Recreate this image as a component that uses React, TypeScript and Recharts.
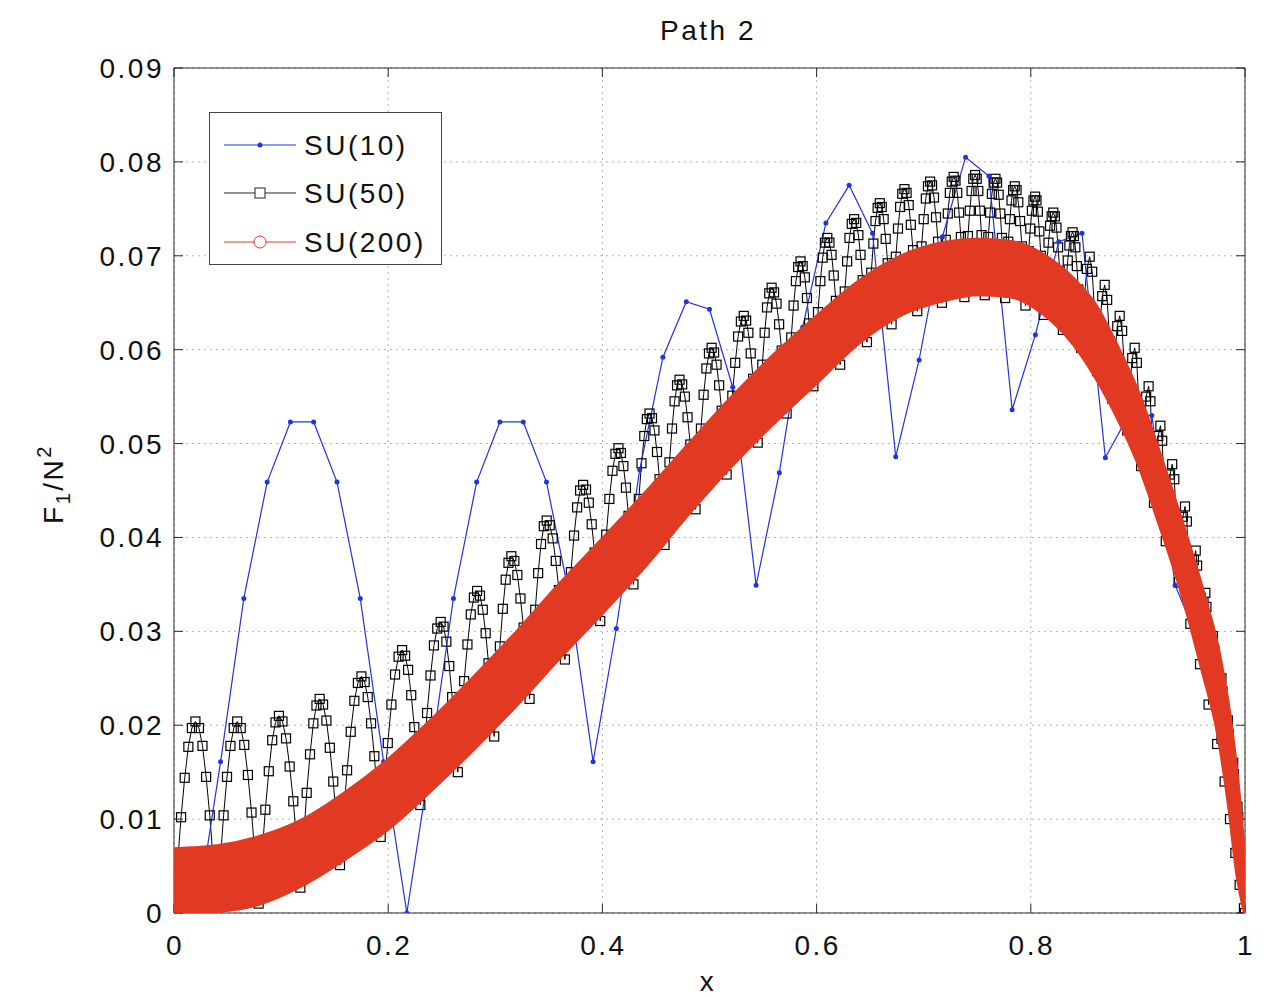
import React from 'react';
import { ComposedChart, Line, Area, XAxis, YAxis, CartesianGrid, ReferenceLine } from 'recharts';

// SU(10): coarse sampling, read point by point
const su10X = [
  0, 0.0217, 0.0435, 0.0652, 0.087, 0.1087, 0.1304, 0.1522, 0.1739, 0.1957,
  0.2174, 0.2391, 0.2609, 0.2826, 0.3043, 0.3261, 0.3478, 0.3696, 0.3913, 0.413,
  0.4348, 0.4565, 0.4783, 0.5, 0.5217, 0.5435, 0.5652, 0.587, 0.6087, 0.6304,
  0.6522, 0.6739, 0.6957, 0.7174, 0.7391, 0.7609, 0.7826, 0.8043, 0.8261, 0.8478,
  0.8696, 0.8913, 0.913, 0.9348, 0.9565, 0.9783, 1,
];
const su10Y = [
  0, 0, 0.0161, 0.0335, 0.0459, 0.0523, 0.0523, 0.0459, 0.0335, 0.0161,
  0, 0.0161, 0.0335, 0.0459, 0.0523, 0.0523, 0.0459, 0.0335, 0.0161, 0.0303,
  0.0472, 0.0592, 0.0651, 0.0643, 0.056, 0.0349, 0.0469, 0.0624, 0.0735, 0.0775,
  0.0724, 0.0486, 0.0589, 0.072, 0.0805, 0.0785, 0.0536, 0.0616, 0.0715, 0.0724,
  0.0485, 0.053, 0.053, 0.0349, 0.029, 0.019, 0,
];

// SU(50): one row per bump, trough -> peak -> back down
const su50X = [
  0, 0.0033, 0.0066, 0.01, 0.0134, 0.0167, 0.02, 0.0233, 0.0266, 0.03, 0.0334, 0.0367,
  0.04, 0.0432, 0.0463, 0.0495, 0.0527, 0.0558, 0.059, 0.0623, 0.0656, 0.069, 0.0724, 0.0757,
  0.079, 0.0822, 0.0853, 0.0885, 0.0917, 0.0948, 0.098, 0.1013, 0.1046, 0.108, 0.1114, 0.1147,
  0.118, 0.121, 0.1239, 0.127, 0.1301, 0.133, 0.136, 0.1392, 0.1423, 0.1455, 0.1487, 0.1518,
  0.155, 0.1583, 0.1616, 0.165, 0.1684, 0.1717, 0.175, 0.178, 0.1809, 0.184, 0.1871, 0.19,
  0.193, 0.1963, 0.1996, 0.203, 0.2064, 0.2097, 0.213, 0.2158, 0.2186, 0.2215, 0.2244, 0.2272,
  0.23, 0.2332, 0.2363, 0.2395, 0.2427, 0.2458, 0.249, 0.2517, 0.2543, 0.257, 0.2597, 0.2623,
  0.265, 0.268, 0.2709, 0.274, 0.2771, 0.28, 0.283, 0.2857, 0.2883, 0.291, 0.2937, 0.2963,
  0.299, 0.3017, 0.3043, 0.307, 0.3097, 0.3123, 0.315, 0.3178, 0.3206, 0.3235, 0.3264, 0.3292,
  0.332, 0.3347, 0.3373, 0.34, 0.3427, 0.3453, 0.348, 0.3508, 0.3536, 0.3565, 0.3594, 0.3622,
  0.365, 0.3678, 0.3706, 0.3735, 0.3764, 0.3792, 0.382, 0.3847, 0.3873, 0.39, 0.3927, 0.3953,
  0.398, 0.4008, 0.4036, 0.4065, 0.4094, 0.4122, 0.415, 0.4173, 0.4196, 0.422, 0.4244, 0.4267,
  0.429, 0.4315, 0.434, 0.4365, 0.4391, 0.4415, 0.444, 0.4463, 0.4486, 0.451, 0.4534, 0.4557,
  0.458, 0.4603, 0.4626, 0.465, 0.4674, 0.4697, 0.472, 0.4745, 0.477, 0.4795, 0.4821, 0.4845,
  0.487, 0.4895, 0.492, 0.4945, 0.4971, 0.4995, 0.502, 0.5043, 0.5066, 0.509, 0.5114, 0.5137,
  0.516, 0.5187, 0.5213, 0.524, 0.5267, 0.5293, 0.532, 0.5342, 0.5363, 0.5385, 0.5407, 0.5428,
  0.545, 0.5472, 0.5493, 0.5515, 0.5537, 0.5558, 0.558, 0.5603, 0.5626, 0.565, 0.5674, 0.5697,
  0.572, 0.5742, 0.5763, 0.5785, 0.5807, 0.5828, 0.585, 0.587, 0.589, 0.591, 0.593, 0.595,
  0.597, 0.5992, 0.6013, 0.6035, 0.6057, 0.6078, 0.61, 0.612, 0.614, 0.616, 0.618, 0.62,
  0.622, 0.6242, 0.6263, 0.6285, 0.6307, 0.6328, 0.635, 0.637, 0.639, 0.641, 0.643, 0.645,
  0.647, 0.649, 0.651, 0.653, 0.655, 0.657, 0.659, 0.6608, 0.6626, 0.6645, 0.6664, 0.6682,
  0.67, 0.672, 0.674, 0.676, 0.678, 0.68, 0.682, 0.684, 0.686, 0.688, 0.69, 0.692,
  0.694, 0.696, 0.698, 0.7, 0.702, 0.704, 0.706, 0.7078, 0.7096, 0.7115, 0.7134, 0.7152,
  0.717, 0.7188, 0.7206, 0.7225, 0.7244, 0.7262, 0.728, 0.7297, 0.7313, 0.733, 0.7347, 0.7363,
  0.738, 0.7397, 0.7413, 0.743, 0.7447, 0.7463, 0.748, 0.7495, 0.751, 0.7525, 0.754, 0.7555,
  0.757, 0.7587, 0.7603, 0.762, 0.7637, 0.7653, 0.767, 0.7685, 0.77, 0.7715, 0.773, 0.7745,
  0.776, 0.7775, 0.779, 0.7805, 0.782, 0.7835, 0.785, 0.7867, 0.7883, 0.79, 0.7917, 0.7933,
  0.795, 0.7965, 0.798, 0.7995, 0.801, 0.8025, 0.804, 0.8053, 0.8066, 0.808, 0.8094, 0.8107,
  0.812, 0.8135, 0.815, 0.8165, 0.818, 0.8195, 0.821, 0.8225, 0.824, 0.8255, 0.827, 0.8285,
  0.83, 0.8315, 0.833, 0.8345, 0.836, 0.8375, 0.839, 0.8403, 0.8416, 0.843, 0.8444, 0.8457,
  0.847, 0.8496, 0.8524, 0.855, 0.8573, 0.8597,
  0.862, 0.8643, 0.8667, 0.869, 0.8713, 0.8737,
  0.876, 0.8783, 0.8807, 0.883, 0.8853, 0.8877,
  0.89, 0.8923, 0.8947, 0.897, 0.899, 0.901,
  0.903, 0.9053, 0.9077, 0.91, 0.9117, 0.9133,
  0.915, 0.917, 0.919, 0.921, 0.9227, 0.9243,
  0.926, 0.928, 0.93, 0.932, 0.934, 0.936,
  0.938, 0.94, 0.942, 0.944, 0.9457, 0.9473,
  0.949, 0.9507, 0.9523, 0.954, 0.9553, 0.9567,
  0.958, 0.9597, 0.9613, 0.963, 0.964, 0.965,
  0.966, 0.9673, 0.9687, 0.97, 0.9713, 0.9727,
  0.974, 0.9753, 0.9767, 0.978, 0.979, 0.98,
  0.981, 0.982, 0.983, 0.984, 0.9847, 0.9853,
  0.986, 0.987, 0.988, 0.989, 0.9897, 0.9903,
  0.991, 0.9917, 0.9923, 0.993, 0.9937, 0.9943,
  0.995, 0.9957, 0.9963, 0.997, 0.9977, 0.9983,
  0.999, 1,
];
const su50Y = [
  0, 0.0053, 0.0102, 0.0144, 0.0177, 0.0197, 0.0204, 0.0197, 0.0178, 0.0145, 0.0104, 0.0055,
  0.0003, 0.0055, 0.0104, 0.0145, 0.0178, 0.0197, 0.0204, 0.0197, 0.0179, 0.0147, 0.0107, 0.006,
  0.001, 0.0062, 0.011, 0.0151, 0.0184, 0.0203, 0.021, 0.0204, 0.0186, 0.0156, 0.0119, 0.0074,
  0.0027, 0.0079, 0.0128, 0.0169, 0.0202, 0.0221, 0.0228, 0.0222, 0.0205, 0.0176, 0.014, 0.0097,
  0.0051, 0.0103, 0.0152, 0.0193, 0.0226, 0.0245, 0.0252, 0.0246, 0.023, 0.0202, 0.0167, 0.0125,
  0.0081, 0.0133, 0.0181, 0.0222, 0.0254, 0.0273, 0.028, 0.0274, 0.0259, 0.0232, 0.0198, 0.0158,
  0.0115, 0.0166, 0.0213, 0.0253, 0.0285, 0.0303, 0.031, 0.0305, 0.0289, 0.0263, 0.023, 0.0191,
  0.015, 0.02, 0.0247, 0.0286, 0.0318, 0.0336, 0.0343, 0.0338, 0.0323, 0.0298, 0.0266, 0.0228,
  0.0188, 0.0238, 0.0284, 0.0324, 0.0355, 0.0373, 0.038, 0.0375, 0.036, 0.0335, 0.0304, 0.0267,
  0.0228, 0.0277, 0.0323, 0.0362, 0.0393, 0.0412, 0.0418, 0.0413, 0.0399, 0.0375, 0.0344, 0.0308,
  0.027, 0.0318, 0.0363, 0.0402, 0.0432, 0.045, 0.0456, 0.0451, 0.0437, 0.0414, 0.0384, 0.0349,
  0.0311, 0.0359, 0.0403, 0.0441, 0.0471, 0.0489, 0.0495, 0.049, 0.0476, 0.0453, 0.0423, 0.0388,
  0.035, 0.0397, 0.0441, 0.0479, 0.0508, 0.0526, 0.0532, 0.0527, 0.0514, 0.0491, 0.0462, 0.0428,
  0.0392, 0.0438, 0.048, 0.0516, 0.0545, 0.0562, 0.0568, 0.0563, 0.055, 0.0528, 0.0499, 0.0466,
  0.043, 0.0475, 0.0516, 0.0552, 0.058, 0.0596, 0.0602, 0.0597, 0.0584, 0.0562, 0.0535, 0.0502,
  0.0467, 0.0511, 0.0551, 0.0586, 0.0614, 0.063, 0.0636, 0.0631, 0.0618, 0.0596, 0.0569, 0.0536,
  0.0501, 0.0544, 0.0584, 0.0618, 0.0645, 0.066, 0.0666, 0.0661, 0.0649, 0.0627, 0.0599, 0.0567,
  0.0532, 0.0574, 0.0613, 0.0647, 0.0673, 0.0688, 0.0694, 0.0689, 0.0677, 0.0655, 0.0628, 0.0595,
  0.0561, 0.0602, 0.064, 0.0673, 0.0698, 0.0714, 0.0719, 0.0714, 0.0701, 0.0679, 0.0652, 0.0619,
  0.0584, 0.0624, 0.0662, 0.0694, 0.0719, 0.0734, 0.0739, 0.0735, 0.0722, 0.0701, 0.0674, 0.0642,
  0.0608, 0.0646, 0.0682, 0.0713, 0.0737, 0.0751, 0.0756, 0.0752, 0.0739, 0.0718, 0.0692, 0.066,
  0.0627, 0.0664, 0.0699, 0.0729, 0.0752, 0.0766, 0.0771, 0.0767, 0.0754, 0.0733, 0.0706, 0.0675,
  0.0641, 0.0677, 0.071, 0.0739, 0.0761, 0.0774, 0.0779, 0.0775, 0.0762, 0.0741, 0.0715, 0.0683,
  0.065, 0.0685, 0.0717, 0.0745, 0.0767, 0.0779, 0.0784, 0.078, 0.0767, 0.0746, 0.072, 0.0689,
  0.0656, 0.069, 0.0721, 0.0748, 0.0769, 0.0782, 0.0786, 0.0782, 0.0769, 0.0748, 0.0722, 0.0691,
  0.0658, 0.069, 0.072, 0.0746, 0.0766, 0.0778, 0.0782, 0.0778, 0.0765, 0.0745, 0.0719, 0.0688,
  0.0655, 0.0686, 0.0715, 0.0739, 0.0759, 0.077, 0.0774, 0.077, 0.0757, 0.0737, 0.071, 0.068,
  0.0647, 0.0677, 0.0705, 0.0729, 0.0748, 0.0759, 0.0763, 0.0759, 0.0747, 0.0726, 0.07, 0.067,
  0.0637, 0.0665, 0.0692, 0.0714, 0.0732, 0.0742, 0.0746, 0.0742, 0.073, 0.0709, 0.0684, 0.0653,
  0.0621, 0.0648, 0.0673, 0.0695, 0.0711, 0.0721, 0.0725, 0.0721, 0.0709, 0.0689, 0.0664, 0.0634,
  0.0602, 0.0651, 0.0686, 0.0699, 0.0683, 0.0638,
  0.0577, 0.0623, 0.0657, 0.0669, 0.0653, 0.0609,
  0.0548, 0.0592, 0.0625, 0.0636, 0.062, 0.0575,
  0.0514, 0.0558, 0.0591, 0.0602, 0.0586, 0.0539,
  0.0476, 0.0519, 0.055, 0.0561, 0.0545, 0.0499,
  0.0437, 0.0478, 0.0508, 0.0519, 0.0503, 0.0458,
  0.0396, 0.0437, 0.0467, 0.0478, 0.0462, 0.0415,
  0.0352, 0.0393, 0.0422, 0.0433, 0.0417, 0.0371,
  0.0308, 0.0347, 0.0376, 0.0386, 0.037, 0.0326,
  0.0265, 0.0303, 0.0331, 0.0341, 0.0326, 0.0282,
  0.0222, 0.0259, 0.0286, 0.0295, 0.028, 0.0238,
  0.018, 0.0215, 0.0241, 0.025, 0.0236, 0.0195,
  0.014, 0.0173, 0.0197, 0.0205, 0.0191, 0.0153,
  0.01, 0.013, 0.0152, 0.016, 0.0148, 0.0112,
  0.0064, 0.0089, 0.0107, 0.0113, 0.0102, 0.0072,
  0.003, 0.005, 0.0065, 0.007, 0.0062, 0.0038,
  0.0005, 0,
];

// SU(200): dense oscillation, drawn as its lower / upper envelope
const su200X = [
  0, 0.04, 0.08, 0.12, 0.16, 0.2, 0.24, 0.28, 0.32, 0.36, 0.4, 0.44, 0.48, 0.52, 0.56, 0.6,
  0.64, 0.68, 0.72, 0.75, 0.78, 0.81, 0.84, 0.86, 0.88, 0.9, 0.92, 0.94, 0.96, 0.975, 0.985, 0.993, 1,
];
const su200Low = [
  0, 0.0002, 0.001, 0.003, 0.0058, 0.009, 0.0131, 0.0175, 0.0222, 0.0272, 0.032, 0.037, 0.0425, 0.0476, 0.0522, 0.0565,
  0.0608, 0.0638, 0.0653, 0.0659, 0.0657, 0.064, 0.0606, 0.0572, 0.053, 0.048, 0.0415, 0.0345, 0.026, 0.019, 0.0115, 0.004, 0,
];
const su200High = [
  0.0068, 0.0071, 0.0081, 0.0099, 0.0128, 0.0163, 0.0205, 0.0251, 0.0299, 0.035, 0.0398, 0.0447, 0.0498, 0.0548, 0.0594, 0.0635,
  0.0673, 0.07, 0.0714, 0.0717, 0.0715, 0.0702, 0.0675, 0.0648, 0.0605, 0.0555, 0.049, 0.042, 0.0345, 0.028, 0.0215, 0.014, 0.005,
];

const xTicks = [0, 0.2, 0.4, 0.6, 0.8, 1];
const xTickLabels = ['0', '0.2', '0.4', '0.6', '0.8', '1'];
const yTicks = [0, 0.01, 0.02, 0.03, 0.04, 0.05, 0.06, 0.07, 0.08, 0.09];
const yTickLabels = ['0', '0.01', '0.02', '0.03', '0.04', '0.05', '0.06', '0.07', '0.08', '0.09'];
const seriesNames = ['SU(10)', 'SU(50)', 'SU(200)'];

const W = 1250;
const H = 990;
const PLOT_LEFT = 166;
const PLOT_TOP = 60;
const PLOT_W = 1071;
const PLOT_H = 845;
const Y_AXIS_W = 80;
const X_AXIS_H = 50;
const TICK = 9;
const FONT = '"Liberation Sans", Arial, Helvetica, sans-serif';
const INK = '#111';
const FRAME = '#2a2a2a';
const BLUE = '#2233dd';
const RED = '#e23a22';

const textStyle = { fontFamily: FONT, fontSize: 28, letterSpacing: 2.5, fill: INK };

const su10Data = su10X.map((x, i) => ({ x, y: su10Y[i] }));
const su50Data = su50X.map((x, i) => ({ x, y: su50Y[i] }));
const su200Data = su200X.map((x, i) => ({ x, lo: su200Low[i], hi: su200High[i] }));

const XTick = (props: any) => {
  const { x, y, index } = props;
  return (
    <g>
      <line x1={x} y1={y} x2={x} y2={y - TICK} stroke={FRAME} />
      <line x1={x} y1={y - PLOT_H} x2={x} y2={y - PLOT_H + TICK} stroke={FRAME} />
      <text x={x + 1} y={y + 42} textAnchor="middle" style={textStyle}>
        {xTickLabels[index]}
      </text>
    </g>
  );
};

const YTick = (props: any) => {
  const { x, y, index } = props;
  return (
    <g>
      <line x1={x} y1={y} x2={x + TICK} y2={y} stroke={FRAME} />
      <line x1={x + PLOT_W} y1={y} x2={x + PLOT_W - TICK} y2={y} stroke={FRAME} />
      <text x={x - 10} y={y + 10} textAnchor="end" style={textStyle}>
        {yTickLabels[index]}
      </text>
    </g>
  );
};

const squareDot = (p: any) => (
  <rect
    key={`sq-${p.index}`}
    x={p.cx - 4.5}
    y={p.cy - 4.5}
    width={9}
    height={9}
    fill="none"
    stroke="#000"
    strokeWidth={1.2}
  />
);

const LegendBox = () => {
  const rows = [32, 80, 129];
  return (
    <div
      style={{
        position: 'absolute',
        left: 201,
        top: 104,
        width: 233,
        height: 153,
        border: '1px solid #444',
        background: '#fff',
        boxSizing: 'border-box',
      }}
    >
      <svg width={231} height={151} style={{ display: 'block' }}>
        <line x1={14} y1={rows[0]} x2={86} y2={rows[0]} stroke={BLUE} />
        <circle cx={50} cy={rows[0]} r={2.5} fill={BLUE} />
        <line x1={14} y1={rows[1]} x2={86} y2={rows[1]} stroke="#222" />
        <rect x={45} y={rows[1] - 5} width={10} height={10} fill="#fff" stroke="#222" />
        <line x1={14} y1={rows[2]} x2={86} y2={rows[2]} stroke={RED} />
        <circle cx={50} cy={rows[2]} r={6} fill="#fff" stroke={RED} />
        {seriesNames.map((name, i) => (
          <text key={name} x={94} y={rows[i] + 10} style={textStyle}>
            {name}
          </text>
        ))}
      </svg>
    </div>
  );
};

export default function App() {
  return (
    <div style={{ position: 'relative', width: W, height: H, background: '#fff' }}>
      <ComposedChart
        width={W}
        height={H}
        margin={{
          top: PLOT_TOP,
          right: W - PLOT_LEFT - PLOT_W,
          bottom: H - PLOT_TOP - PLOT_H - X_AXIS_H,
          left: PLOT_LEFT - Y_AXIS_W,
        }}
      >
        <CartesianGrid stroke="#b4b4b4" strokeDasharray="2 4" />
        <XAxis
          type="number"
          dataKey="x"
          domain={[0, 1]}
          ticks={xTicks}
          interval={0}
          allowDataOverflow
          height={X_AXIS_H}
          tickSize={0}
          tickMargin={0}
          tickLine={false}
          axisLine={{ stroke: FRAME }}
          tick={<XTick />}
        />
        <YAxis
          type="number"
          domain={[0, 0.09]}
          ticks={yTicks}
          interval={0}
          allowDataOverflow
          width={Y_AXIS_W}
          tickSize={0}
          tickMargin={0}
          tickLine={false}
          axisLine={{ stroke: FRAME }}
          tick={<YTick />}
        />
        <Line
          data={su50Data}
          dataKey="y"
          type="linear"
          stroke="#000"
          strokeWidth={1}
          dot={squareDot}
          activeDot={false}
          isAnimationActive={false}
        />
        <Line
          data={su10Data}
          dataKey="y"
          type="linear"
          stroke={BLUE}
          strokeWidth={1.2}
          dot={{ r: 2.5, fill: BLUE, stroke: 'none' }}
          activeDot={false}
          isAnimationActive={false}
        />
        <ReferenceLine y={0.09} stroke={FRAME} />
        <ReferenceLine x={1} stroke={FRAME} />
      </ComposedChart>

      {/* SU(200) sits on top of the other two series, same plot box */}
      <div style={{ position: 'absolute', left: 0, top: 0, pointerEvents: 'none' }}>
        <ComposedChart
          width={W}
          height={H}
          data={su200Data}
          margin={{
            top: PLOT_TOP,
            right: W - PLOT_LEFT - PLOT_W,
            bottom: H - PLOT_TOP - PLOT_H,
            left: PLOT_LEFT,
          }}
        >
          <XAxis type="number" dataKey="x" domain={[0, 1]} allowDataOverflow hide />
          <YAxis type="number" domain={[0, 0.09]} allowDataOverflow hide />
          <Area
            dataKey={(d: any) => [d.lo, d.hi]}
            type="monotone"
            stroke={RED}
            strokeWidth={4}
            fill={RED}
            fillOpacity={1}
            activeDot={false}
            isAnimationActive={false}
          />
        </ComposedChart>
      </div>

      <svg width={W} height={H} style={{ position: 'absolute', left: 0, top: 0, pointerEvents: 'none' }}>
        <text x={700} y={32} textAnchor="middle" style={textStyle}>
          Path 2
        </text>
        <text x={700} y={983} textAnchor="middle" style={textStyle}>
          x
        </text>
        <text transform="translate(55,476) rotate(-90)" textAnchor="middle" style={textStyle}>
          <tspan>F</tspan>
          <tspan dy={7} fontSize={20}>1</tspan>
          <tspan dy={-7}>/N</tspan>
          <tspan dy={-12} fontSize={20}>2</tspan>
        </text>
      </svg>
      <LegendBox />
    </div>
  );
}
